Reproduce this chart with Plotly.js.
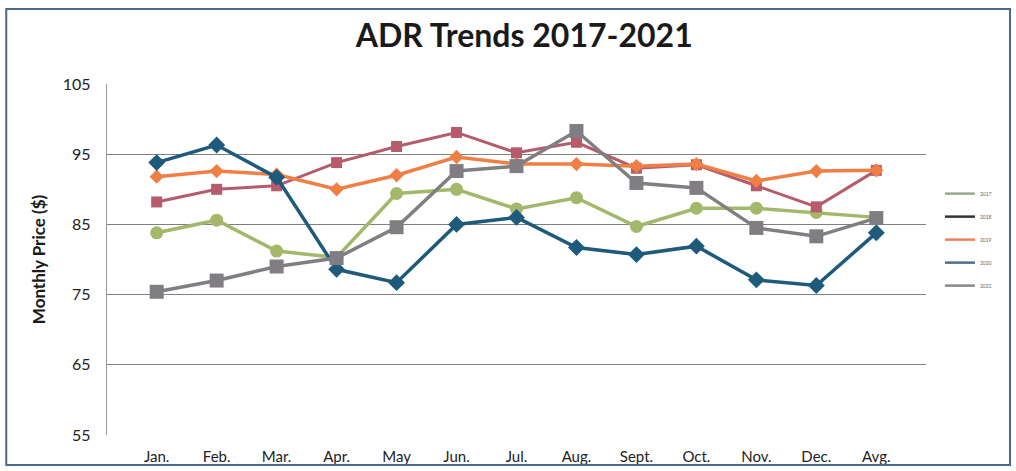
<!DOCTYPE html>
<html>
<head>
<meta charset="utf-8">
<script src="https://cdn.plot.ly/plotly-3.0.1.min.js"></script>
<style>
html,body{margin:0;padding:0;background:#fff;}
#chart{width:1016px;height:471px;}
</style>
</head>
<body>
<div id="chart"></div>
<script>
const months = ["Jan.","Feb.","Mar.","Apr.","May","Jun.","Jul.","Aug.","Sept.","Oct.","Nov.","Dec.","Avg."];
const adr2017 = [83.8,85.6,81.2,80.3,89.4,90.0,87.2,88.8,84.7,87.3,87.3,86.7,86.0];
const adr2018 = [88.2,90.0,90.5,93.8,96.1,98.1,95.2,96.7,93.0,93.5,90.5,87.5,92.7];
const adr2019 = [91.8,92.6,92.1,90.0,92.0,94.6,93.6,93.6,93.3,93.6,91.2,92.6,92.7];
const adr2020 = [93.8,96.3,91.7,78.6,76.7,85.0,86.0,81.7,80.7,81.9,77.1,76.3,83.8];
const adr2021 = [75.4,77.0,79.0,80.2,84.6,92.6,93.3,98.3,90.9,90.2,84.5,83.3,85.9];
const yTicks = [55,65,75,85,95,105];
const seriesNames = ['2017','2018','2019','2020','2021'];

function tr(name, y, color, symbol, size, width){
  return {type:'scatter', mode:'lines+markers', name:name, x:months, y:y,
    showlegend:false,
    line:{color:color, width:width},
    marker:{color:color, symbol:symbol, size:size}};
}
function legendOnly(name, color){
  return {type:'scatter', mode:'lines', name:name, x:[null], y:[null],
    legendgroup:name, showlegend:true, line:{color:color, width:2.5}};
}
const colors = ['#a3b86a','#b65b6c','#f07f45','#1d5a7c','#807e83'];
const legendColors = ['#9aa890','#333333','#f0805a','#4f6f8a','#8a8a8a'];
const data = [
  tr(seriesNames[0], adr2017, colors[0], 'circle', 13, 3.5),
  tr(seriesNames[1], adr2018, colors[1], 'square', 11, 3),
  tr(seriesNames[2], adr2019, colors[2], 'diamond', 11, 3.5),
  tr(seriesNames[3], adr2020, colors[3], 'diamond', 13, 3.5),
  tr(seriesNames[4], adr2021, colors[4], 'square', 14, 3.5)
].concat(seriesNames.map((n,i)=>legendOnly(n, legendColors[i])));
const layout = {
  width:1016, height:471,
  margin:{l:107, r:90, t:84, b:36},
  paper_bgcolor:'#fff', plot_bgcolor:'#fff',
  font:{family:'Lato, "Open Sans", sans-serif', color:'#222'},
  title:{text:'<b>ADR Trends 2017-2021</b>', x:0.516, xref:'container', y:0.924, yref:'container', yanchor:'middle', xanchor:'center', font:{size:32, color:'#1a1a1a'}},
  xaxis:{type:'category', showgrid:false, zeroline:false, showline:false, ticks:'',
    tickfont:{size:15, color:'#222'}, ticklabelstandoff:11, fixedrange:true},
  yaxis:{range:[55,105], tickvals:yTicks, showgrid:true, gridcolor:'#808080', gridwidth:1.3,
    zeroline:false, showline:true, linecolor:'#999', linewidth:1.3, ticks:'',
    tickfont:{size:16, color:'#222'}, ticklabelstandoff:12,
    title:{text:'<b>Monthly Price ($)</b>', font:{size:17, color:'#1a1a1a'}, standoff:12}},
  legend:{x:1.017, y:0.729, xanchor:'left', yanchor:'top', font:{size:5, color:'#666'},
    traceorder:'grouped', tracegroupgap:4, bgcolor:'rgba(0,0,0,0)', itemwidth:30},
  shapes:[{type:'rect', xref:'paper', yref:'paper', x0:-0.123, x1:1.1026, y0:-0.0855, y1:1.2137,
    line:{color:'#4a6a8c', width:2}}],
  showlegend:true
};
Plotly.newPlot('chart', data, layout, {displayModeBar:false, staticPlot:true});
</script>
</body>
</html>
